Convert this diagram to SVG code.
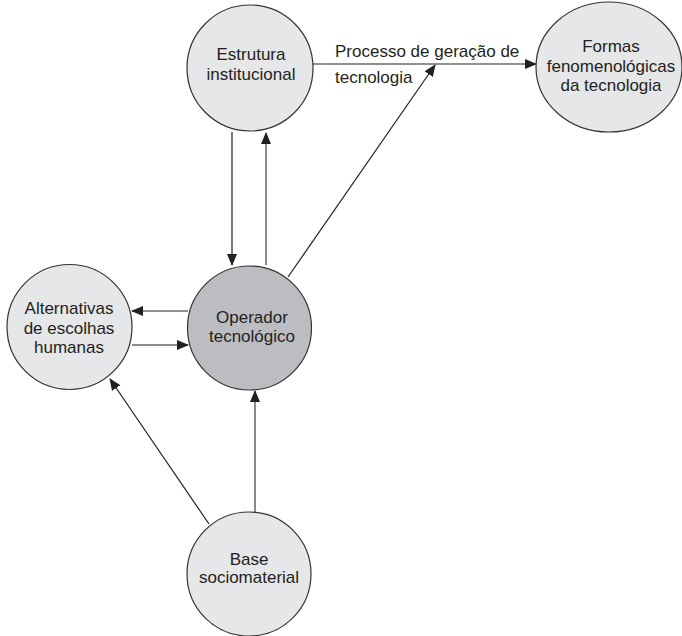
<svg xmlns="http://www.w3.org/2000/svg" width="682" height="636" viewBox="0 0 682 636">
<style>
.node{fill:#e6e7e8;stroke:#333;stroke-width:1.2}
.dark{fill:#bcbdc0}
.t{font-family:"Liberation Sans",Arial,sans-serif;font-size:17px;fill:#231f20;text-anchor:middle}
.lbl{text-anchor:start}
.c{stroke:#231f20;stroke-width:1.2;fill:none;marker-end:url(#ah)}
.g{stroke:#666;stroke-width:1.5}
</style>
<defs>
<marker id="ah" markerUnits="userSpaceOnUse" markerWidth="12" markerHeight="10" refX="11" refY="5" orient="auto" viewBox="0 0 12 10">
<path d="M0,0 L12,5 L0,10 z" fill="#231f20"/>
</marker>
</defs>
<rect width="682" height="636" fill="#fff"/>
<g id="connectors">
<line class="c" x1="313" y1="64" x2="536" y2="64"/>
<line class="c" x1="288" y1="277" x2="435" y2="65"/>
<line class="c" x1="232" y1="132" x2="232" y2="265"/>
<line class="c g" x1="266" y1="265" x2="266" y2="133"/>
<line class="c" x1="188" y1="311" x2="132" y2="311"/>
<line class="c g" x1="132" y1="345" x2="188" y2="345"/>
<line class="c g" x1="255" y1="513" x2="255" y2="391"/>
<line class="c" x1="209" y1="524" x2="110" y2="379"/>
</g>
<g id="label-processo">
<text class="t lbl" x="335" y="57">Processo de geração de</text>
<text class="t lbl" x="335" y="83">tecnologia</text>
</g>
<g id="estrutura">
<circle class="node" cx="250" cy="68" r="63"/>
<text class="t" x="251" y="60">Estrutura</text>
<text class="t" x="251" y="80">institucional</text>
</g>
<g id="formas">
<ellipse class="node" cx="609" cy="67" rx="73" ry="65"/>
<text class="t" x="611" y="52">Formas</text>
<text class="t" x="611" y="72">fenomenológicas</text>
<text class="t" x="611" y="91">da tecnologia</text>
</g>
<g id="alternativas">
<circle class="node" cx="69.5" cy="327" r="62.5"/>
<text class="t" x="69" y="314">Alternativas</text>
<text class="t" x="69" y="334">de escolhas</text>
<text class="t" x="69" y="353">humanas</text>
</g>
<g id="operador">
<circle class="node dark" cx="249.5" cy="328" r="62"/>
<text class="t" x="252" y="323">Operador</text>
<text class="t" x="252" y="342">tecnológico</text>
</g>
<g id="base">
<circle class="node" cx="249" cy="574" r="62"/>
<text class="t" x="249" y="565">Base</text>
<text class="t" x="249" y="583">sociomaterial</text>
</g>
</svg>
